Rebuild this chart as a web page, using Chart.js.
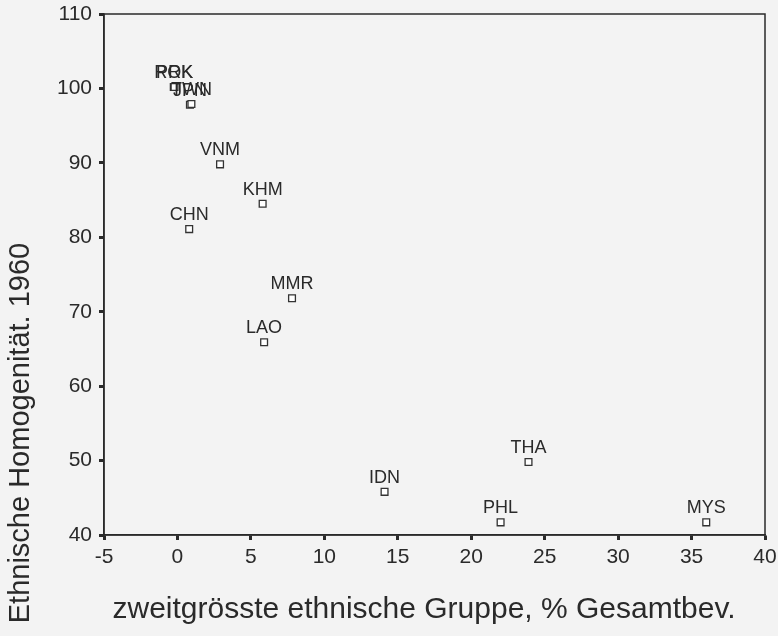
<!DOCTYPE html>
<html>
<head>
<meta charset="utf-8">
<script src="https://cdn.jsdelivr.net/npm/chart.js@4/dist/chart.umd.min.js"></script>
<style>
  html, body { margin: 0; padding: 0; background: #f3f3f3; }
  #wrap { width: 778px; height: 636px; }
</style>
</head>
<body>
<div id="wrap"><canvas id="c" width="778" height="636"></canvas></div>
<script>
// Data
const countries = ["ROK", "PRK", "JPN", "TWN", "VNM", "KHM", "CHN", "MMR", "LAO", "IDN", "THA", "PHL", "MYS"];
const secondGroupShare = [-0.25, -0.2, 0.85, 0.95, 2.9, 5.8, 0.8, 7.8, 5.9, 14.1, 23.9, 22.0, 36.0];
const homogeneity1960 = [100.2, 100.2, 97.8, 97.9, 89.8, 84.5, 81.1, 71.8, 65.9, 45.8, 49.8, 41.7, 41.7];
const xTicks = [-5, 0, 5, 10, 15, 20, 25, 30, 35, 40];
const yTicks = [40, 50, 60, 70, 80, 90, 100, 110];
const xTitle = 'zweitgrösste ethnische Gruppe, % Gesamtbev.';
const yTitle = 'Ethnische Homogenität. 1960';

const points = countries.map((c, i) => ({ x: secondGroupShare[i], y: homogeneity1960[i], label: c }));

const FONT = "'Liberation Sans', Arial, sans-serif";
const INK = '#2a2a2a';

const frame = {
  id: 'frame',
  afterDraw(chart) {
    const { ctx, chartArea: a } = chart;
    ctx.save();
    ctx.strokeStyle = INK;
    ctx.lineWidth = 1.5;
    ctx.strokeRect(a.left, a.top, a.right - a.left, a.bottom - a.top);
    ctx.restore();
  }
};

const axisTitles = {
  id: 'axisTitles',
  afterDraw(chart) {
    const { ctx } = chart;
    ctx.save();
    ctx.fillStyle = INK;
    ctx.textAlign = 'center';
    ctx.textBaseline = 'middle';
    ctx.font = "30px " + FONT;
    ctx.fillText(xTitle, 424, 610);
    ctx.font = "29px " + FONT;
    ctx.translate(21, 433);
    ctx.rotate(-Math.PI / 2);
    ctx.fillText(yTitle, 0, 0);
    ctx.restore();
  }
};

const pointLabels = {
  id: 'pointLabels',
  afterDatasetsDraw(chart) {
    const { ctx } = chart;
    const meta = chart.getDatasetMeta(0);
    ctx.save();
    ctx.font = "18px " + FONT;
    ctx.fillStyle = INK;
    ctx.textAlign = 'center';
    ctx.textBaseline = 'alphabetic';
    meta.data.forEach((el, i) => {
      ctx.fillText(points[i].label, el.x, el.y - 9);
    });
    ctx.restore();
  }
};

new Chart(document.getElementById('c'), {
  type: 'scatter',
  data: {
    datasets: [{
      data: points,
      pointStyle: 'rect',
      pointRadius: 4.8,
      pointHoverRadius: 4.8,
      pointBackgroundColor: '#ffffff',
      pointBorderColor: '#333333',
      pointBorderWidth: 1.3
    }]
  },
  options: {
    responsive: false,
    animation: false,
    devicePixelRatio: 1,
    layout: { padding: { top: 14, right: 13, left: 0, bottom: 0 } },
    plugins: { legend: { display: false }, tooltip: { enabled: false } },
    scales: {
      x: {
        type: 'linear',
        min: -5, max: 40,
        afterBuildTicks(scale) { scale.ticks = xTicks.map(v => ({ value: v })); },
        afterFit(scale) { scale.height = 101; scale.paddingLeft = 0; scale.paddingRight = 0; },
        border: { display: true, color: INK, width: 1.5 },
        grid: { drawOnChartArea: false, drawTicks: true, tickLength: 5, tickWidth: 3, tickColor: INK },
        ticks: { color: INK, font: { family: FONT, size: 21 }, padding: 5, maxRotation: 0, autoSkip: false },
        title: { display: false }
      },
      y: {
        type: 'linear',
        min: 40, max: 110,
        afterBuildTicks(scale) { scale.ticks = yTicks.map(v => ({ value: v })); },
        afterFit(scale) { scale.width = 104; scale.paddingTop = 0; scale.paddingBottom = 0; },
        border: { display: true, color: INK, width: 1.5 },
        grid: { drawOnChartArea: false, drawTicks: true, tickLength: 5, tickWidth: 3, tickColor: INK },
        ticks: { color: INK, font: { family: FONT, size: 21 }, padding: 7, autoSkip: false },
        title: { display: false }
      }
    }
  },
  plugins: [frame, pointLabels, axisTitles]
});
</script>
</body>
</html>
